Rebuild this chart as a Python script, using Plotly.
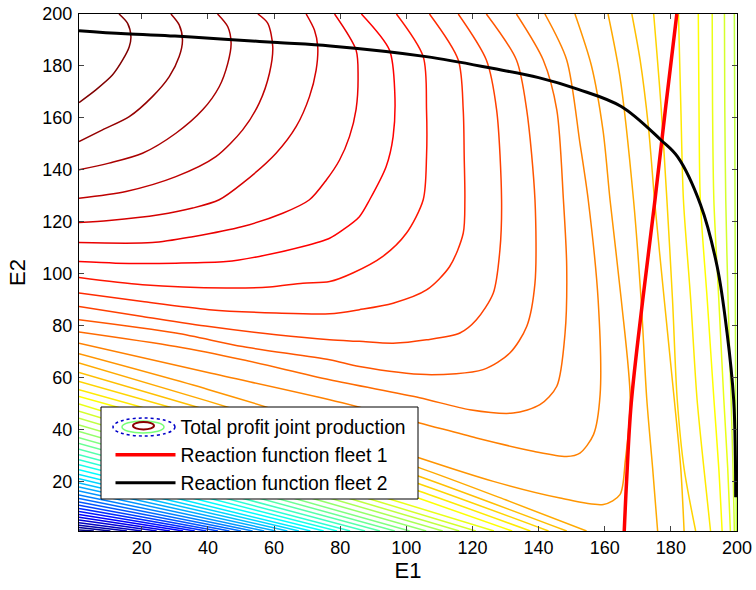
import plotly.graph_objects as go

# ---------------- axes ----------------
E1_RANGE = [1, 200]
E2_RANGE = [1, 200]
TICKS = [20, 40, 60, 80, 100, 120, 140, 160, 180, 200]
N_LEVELS = 48  # level 0 = highest total profit (dark red), 48 = lowest (dark blue)

# ---------------- traced contour segments (E1, E2) ----------------
SEG_LEVEL = [0, 1, 2, 3, 4, 5, 6, 7, 8, 9, 10, 11, 12, 13,
             14, 14, 15, 15, 16, 16, 17, 17, 18, 18, 19, 20, 21]
SEG_E1 = [
    [1, 6.1, 11.1, 14.2, 16.2, 16.7, 15.7, 13.1],
    [1, 8.1, 16.2, 23.2, 28.3, 31.3, 32.3, 31.3, 28.8],
    [1, 10.1, 20.2, 30.3, 38.4, 43.4, 46, 47, 46, 42.9],
    [1, 15.2, 30.3, 42.4, 50.5, 55.5, 58.6, 59.6, 58.1, 55.1],
    [1, 10.1, 25.2, 35.4, 43.4, 50.5, 60.6, 66.7, 70.7, 72.7, 73.2, 72.2, 69.7],
    [1, 23.2, 35.4, 50.5, 62.6, 70.7, 75.8, 79.8, 82.8, 84.8, 85.4, 84.8, 78.3],
    [1, 12.1, 30.3, 45.5, 55.5, 68.7, 76.8, 80.8, 85.8, 88.9, 93.9, 96, 96.5, 94.9, 86.4],
    [1, 20.2, 45.5, 58.6, 68.7, 76.8, 83.8, 92.9, 100, 105.1, 106.1, 106.1, 105.1, 97],
    [1, 20.2, 40.4, 60.6, 76.8, 85.8, 96, 106.1, 113.1, 117.2, 117.7, 117.5, 117.2, 115.7, 107],
    [1, 20.2, 40.4, 60.6, 76.8, 85.8, 96, 106.1, 116.2, 121.2, 126.3, 128.3, 128.8, 127.3, 124.2, 115.7],
    [1, 30.3, 50.5, 76.8, 85.8, 106.1, 123.2, 131.3, 136.4, 138.9, 138.9, 136.4, 133.3, 124.2],
    [1, 30.3, 50.5, 76.8, 104, 119.2, 132.3, 140.4, 145.5, 148, 148.5, 147.5, 145.5, 141.4, 133.3],
    [1, 40, 76.8, 104, 121.2, 138.4, 148.5, 152.5, 156.6, 158.6, 158, 155, 152.5, 148.5, 141.9],
    [1, 40, 76.8, 104, 126.3, 146.5, 159.6, 164.6, 166.2, 167.7, 165, 161.6, 159.5, 156, 151],
    [1, 40, 76.8, 104, 130, 154.5],
    [161, 164.6, 168.7, 171, 172.7, 174.5, 176],
    [1, 40, 76.8, 104, 148.5],
    [168.2, 170.7, 173.2, 175.2, 178, 181, 183, 184],
    [1, 40, 76.8, 104, 143],
    [174.8, 177, 178.8, 180.5, 181.9, 184, 187.5],
    [1, 40, 76.8, 104, 137.5],
    [182.3, 183, 183.8, 186, 187.9, 190, 192],
    [1, 40, 76.8, 104, 132],
    [188.3, 188.5, 188.9, 191, 193, 194.5, 195.5],
    [192.5, 192.6, 193, 194.5, 196, 197.2, 198],
    [196.2, 196.3, 196.6, 197.3, 198.2, 198.8, 199.2],
    [199.2, 199.3, 199.4, 199.5, 199.6, 199.7, 199.8],
]
SEG_E2 = [
    [165.9, 170.8, 176.5, 182.3, 187.4, 191.3, 196.4, 200],
    [150.9, 155.4, 160.5, 168.2, 175.9, 183.6, 190, 195.8, 200],
    [140, 142.6, 146.4, 154.1, 163.1, 172, 181, 188.7, 195.1, 200],
    [129.1, 131.7, 137.4, 145.1, 155.4, 165.7, 177.2, 187.4, 196.4, 200],
    [119.7, 120.5, 122.7, 125.3, 128.5, 134.9, 146.4, 156.7, 168.2, 178.3, 187.4, 193.8, 200],
    [112, 112, 114.3, 118.2, 123.3, 128.5, 136.1, 143.8, 152.8, 163.3, 175.9, 186.1, 200],
    [104.7, 104.1, 104.1, 104.7, 106.7, 110.5, 113.7, 116.9, 122, 128.5, 141.3, 152.8, 169.8, 186.1, 200],
    [98.6, 95.8, 94.5, 94.9, 96.4, 97, 100.3, 106.7, 115.6, 128.5, 145, 163.1, 183.6, 200],
    [92.6, 89.3, 86.2, 84.9, 84.6, 86.2, 88.7, 93.8, 102.8, 115.6, 128.5, 145, 163.1, 182.3, 200],
    [87.4, 83.6, 79.7, 76.5, 74.6, 74, 73.3, 74.6, 77.2, 82.3, 92.6, 109.2, 128.5, 163.1, 182.3, 200],
    [82.3, 77.2, 72, 66.9, 64.3, 61.2, 63.1, 69.5, 79.7, 96.4, 128.5, 163.1, 182.3, 200],
    [77.6, 72, 66.9, 59.2, 52.3, 47.7, 46.4, 49.6, 56.7, 77.2, 102.8, 128.5, 163.1, 182.3, 200],
    [73.3, 62, 51.5, 42.6, 36.8, 31.7, 29.7, 31, 38.1, 53.5, 90, 128.5, 150.3, 182.3, 200],
    [69.2, 55.5, 41, 29.1, 20.1, 13.7, 11.2, 15, 27.8, 52, 90, 128.5, 155, 180, 200],
    [65.7, 51, 36.5, 25.3, 13, 1],
    [200, 175.9, 128.5, 90, 52, 25, 1],
    [62, 47.5, 33.5, 22, 1],
    [200, 182.3, 156.7, 126.5, 90, 52, 25, 1],
    [58.6, 44.5, 30.5, 19.1, 1],
    [200, 165, 128.5, 90, 52, 25, 1],
    [55.4, 41.5, 27.8, 16.3, 1],
    [200, 165, 128.5, 90, 52, 25, 1],
    [52.8, 39, 25.5, 13.5, 1],
    [200, 165, 128.5, 90, 52, 25, 1],
    [200, 165, 128.5, 90, 52, 25, 1],
    [200, 165, 128.5, 90, 52, 25, 1],
    [200, 165, 128.5, 90, 52, 25, 1],
]

# lower diagonal contours: from the left edge (E1 = 1) to the bottom edge (E2 = 1)
LOW_LEVEL = list(range(19, 49))
LOW_LEFT_E2 = [49.9, 47.1, 44.4, 41.8, 39.3, 36.9, 34.7, 32.5, 30.4, 28.4,
               26.5, 24.6, 22.8, 21.1, 19.5, 17.9, 16.4, 14.9, 13.5, 12.2,
               10.9, 9.7, 8.5, 7.4, 6.3, 5.2, 4.2, 3.2, 2.3, 1.4]
LOW_BOTTOM_E1 = [126.5, 121, 116, 111, 106, 101, 96.5, 92, 87.5, 83,
                 79, 75, 71, 67.5, 64, 60.5, 57, 53.5, 50, 46.5,
                 43, 39.5, 36, 32.5, 28.5, 24.5, 20, 15.5, 10.5, 5.5]

# ---------------- reaction functions ----------------
RF1_E1 = [165.9, 166.6, 168, 171.5, 175.2, 178.5, 181.8]
RF1_E2 = [1, 20, 50, 90, 128.5, 165, 200]
RF2_E1 = [1, 15, 30, 45, 61, 77, 106, 126, 140, 152, 165, 177, 182, 189, 194, 197, 199, 199.5, 199.6]
RF2_E2 = [193.6, 192.4, 191.5, 190.3, 189, 187.7, 183.6, 179.1, 175.5, 171, 164.4, 151.5, 145.1,
          126.5, 102.8, 77.2, 51.5, 30, 14]

LEGEND_NAMES = ["Total profit joint production", "Reaction function fleet 1", "Reaction function fleet 2"]


def jet(t):
    def c(v):
        return max(0.0, min(1.0, v))
    r = c(1.5 - abs(4 * t - 3))
    g = c(1.5 - abs(4 * t - 2))
    b = c(1.5 - abs(4 * t - 1))
    return "rgb(%d,%d,%d)" % (round(r * 255), round(g * 255), round(b * 255))


def level_color(k):
    return jet(1 - k / N_LEVELS)


fig = go.Figure()

for k, xs, ys in zip(SEG_LEVEL, SEG_E1, SEG_E2):
    fig.add_trace(go.Scatter(x=xs, y=ys, mode="lines",
                             line=dict(color=level_color(k), width=1.5, shape="spline", smoothing=0.8),
                             showlegend=False, hoverinfo="skip"))

for k, yl, xb in zip(LOW_LEVEL, LOW_LEFT_E2, LOW_BOTTOM_E1):
    fig.add_trace(go.Scatter(x=[E1_RANGE[0], xb], y=[yl, E2_RANGE[0]], mode="lines",
                             line=dict(color=level_color(k), width=1.5), showlegend=False, hoverinfo="skip"))

# legend entry for the contour set (its icon is drawn with shapes below)
fig.add_trace(go.Scatter(x=[None], y=[None], mode="lines", name=LEGEND_NAMES[0],
                         line=dict(color="rgba(0,0,0,0)", width=1)))
fig.add_trace(go.Scatter(x=RF1_E1, y=RF1_E2, mode="lines", name=LEGEND_NAMES[1],
                         line=dict(color="rgb(255,0,0)", width=3.5, shape="spline")))
fig.add_trace(go.Scatter(x=RF2_E1, y=RF2_E2, mode="lines", name=LEGEND_NAMES[2],
                         line=dict(color="black", width=3, shape="spline")))

W, H = 756, 590
L, R, T, B = 79, 19, 14, 59
PW, PH = W - L - R, H - T - B


def px(x):
    """window pixel column -> paper x"""
    return (x - L) / PW


def py(y):
    """window pixel row -> paper y"""
    return (H - B - y) / PH


shapes = [
    dict(type="rect", xref="paper", yref="paper", x0=px(101), x1=px(418), y0=py(499), y1=py(407),
         fillcolor="white", line=dict(color="black", width=1), layer="above"),
    dict(type="circle", xref="paper", yref="paper", x0=px(113), x1=px(175), y0=py(436), y1=py(418),
         line=dict(color="rgb(0,0,200)", width=1.5, dash="dot"), layer="above"),
    dict(type="circle", xref="paper", yref="paper", x0=px(122), x1=px(164), y0=py(433), y1=py(421),
         line=dict(color="rgb(120,255,120)", width=1.5), layer="above"),
    dict(type="circle", xref="paper", yref="paper", x0=px(133), x1=px(154), y0=py(429.5), y1=py(422),
         line=dict(color="rgb(140,0,0)", width=2), layer="above"),
]

fig.update_layout(
    template="none",
    width=W, height=H,
    margin=dict(l=L, r=R, t=T, b=B, autoexpand=False),
    plot_bgcolor="white", paper_bgcolor="white",
    font=dict(family="Liberation Sans, Arial, sans-serif", size=18, color="black"),
    shapes=shapes,
    showlegend=True,
    legend=dict(x=px(110.5), y=py(407.5), xanchor="left", yanchor="top", bgcolor="rgba(0,0,0,0)",
                borderwidth=0, font=dict(size=19.3), itemwidth=60, tracegroupgap=0),
    xaxis=dict(range=E1_RANGE, tickvals=TICKS, ticks="inside", ticklen=5, showline=True, mirror="ticks",
               linecolor="black", linewidth=1, showgrid=False, zeroline=False, automargin=False,
               title=dict(text="E1", standoff=6)),
    yaxis=dict(range=E2_RANGE, tickvals=TICKS, ticks="inside", ticklen=5, showline=True, mirror="ticks",
               linecolor="black", linewidth=1, showgrid=False, zeroline=False, automargin=False,
               ticklabelstandoff=2, title=dict(text="E2", standoff=10)),
)

# remove the browser's default 8 px page margin so the 756x590 figure fills the window exactly
fig.write_html("out.html", config={"displayModeBar": False},
               post_script="document.body.style.margin='0px';")
